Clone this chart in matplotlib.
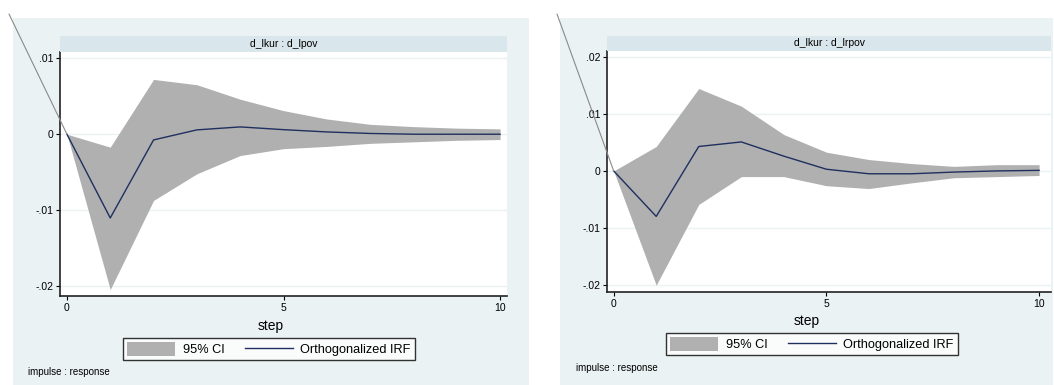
import numpy as np
import matplotlib
matplotlib.use("Agg")
import matplotlib.pyplot as plt
from matplotlib.patches import Rectangle, Patch
from matplotlib.lines import Line2D

plt.rcParams['font.family'] = ['Liberation Sans', 'DejaVu Sans']

# donnees
steps = np.arange(11)

titre_1 = "d_lkur : d_lpov"
irf_1 = [0, -0.0110, -0.00075, 0.00057, 0.00096, 0.0006, 0.0003, 0.0001, 0.0, 0.0, 0.0]
haut_1 = [0, -0.0017, 0.0072, 0.0065, 0.0046, 0.0031, 0.0020, 0.0013, 0.0010, 0.0008, 0.0007]
bas_1 = [0, -0.0204, -0.0087, -0.0052, -0.0028, -0.0019, -0.0016, -0.0012, -0.0010, -0.0008, -0.0007]
yticks_1 = [-0.02, -0.01, 0, 0.01]
ylabels_1 = ["-.02", "-.01", "0", ".01"]

titre_2 = "d_lkur : d_lrpov"
irf_2 = [0, -0.0080, 0.0043, 0.0051, 0.0026, 0.0003, -0.0005, -0.0005, -0.0002, 0.0, 0.0001]
haut_2 = [0, 0.0043, 0.0145, 0.0114, 0.0064, 0.0033, 0.0020, 0.0013, 0.0008, 0.0011, 0.0011]
bas_2 = [0, -0.0201, -0.0059, -0.0010, -0.0010, -0.0026, -0.0031, -0.0021, -0.0012, -0.0010, -0.0008]
yticks_2 = [-0.02, -0.01, 0, 0.01, 0.02]
ylabels_2 = ["-.02", "-.01", "0", ".01", ".02"]

xticks = [0, 5, 10]

fond = "#EAF2F3"
bande = "#D9E6EB"
gris = "#B0B0B0"
bleu = "#1F2F5F"

W, H = 1054, 385
fig = plt.figure(figsize=(W / 100, H / 100), dpi=100)


def fx(px):
    return px / W


def fy(py):
    return 1 - py / H


def panneau(bx0, bx1, ax0, ax1, atop, abot, stop, xlim, ylim, titre, irf, haut, bas,
            yt, yl, step_y, leg_y, leg_x, imp_x, imp_y, diag_start):
    # fond du panneau
    fig.add_artist(Rectangle((fx(bx0), 0), fx(bx1 - bx0), fy(18), transform=fig.transFigure,
                             facecolor=fond, edgecolor="none", zorder=0))
    # bande du titre
    fig.add_artist(Rectangle((fx(ax0), fy(atop)), fx(ax1 - ax0), (atop - stop) / H,
                             transform=fig.transFigure, facecolor=bande, edgecolor="none", zorder=1))
    fig.text(fx((ax0 + ax1) / 2), fy((atop + stop) / 2), titre, ha="center", va="center", fontsize=7.5)

    ax = fig.add_axes([fx(ax0), fy(abot), fx(ax1 - ax0), (abot - atop) / H])
    ax.fill_between(steps, bas, haut, color=gris, linewidth=0, zorder=2)
    ax.plot(steps, irf, color=bleu, linewidth=1, zorder=3)
    ax.set_xlim(*xlim)
    ax.set_ylim(*ylim)
    ax.set_xticks(xticks)
    ax.set_yticks(yt)
    ax.set_yticklabels(yl)
    ax.grid(axis="y", color=fond, linewidth=1)
    ax.set_axisbelow(True)
    for s in ["top", "right"]:
        ax.spines[s].set_visible(False)
    for s in ["left", "bottom"]:
        ax.spines[s].set_color("#222222")
        ax.spines[s].set_linewidth(1.2)
    ax.tick_params(labelsize=7.5, length=3, width=0.8, pad=2)

    fig.text(fx((bx0 + bx1) / 2), fy(step_y), "step", ha="center", va="center", fontsize=10)
    fig.text(fx(imp_x), fy(imp_y), "impulse : response", ha="left", va="center", fontsize=7)

    poignees = [Patch(facecolor=gris, edgecolor="none"), Line2D([0], [0], color=bleu, linewidth=1)]
    leg = fig.legend(poignees, ["95% CI", "Orthogonalized IRF"], loc="center",
                     bbox_to_anchor=(fx(leg_x), fy(leg_y)), ncol=2, fontsize=9.2,
                     frameon=True, fancybox=False, edgecolor="black", handlelength=3.75,
                     handleheight=1.35, columnspacing=1.6, handletextpad=0.6,
                     borderpad=0.3, borderaxespad=0)
    leg.get_frame().set_linewidth(1)

    # trait diagonal
    ax.annotate("", xy=(0, 0), xycoords="data", xytext=(fx(diag_start[0]), fy(diag_start[1])),
                textcoords="figure fraction",
                arrowprops=dict(arrowstyle="-", color="#8A8A8A", linewidth=0.8,
                                shrinkA=0, shrinkB=0),
                annotation_clip=False)
    return ax


panneau(13, 529, 60, 507, 52, 296, 36, (-0.16, 10.16), (-0.02125, 0.0108), titre_1,
        irf_1, haut_1, bas_1, yticks_1, ylabels_1, 326, 349, 269, 28, 372, (9, 14))
panneau(560, 1053, 607, 1051, 51, 292, 36, (-0.157, 10.28), (-0.0213, 0.0211), titre_2,
        irf_2, haut_2, bas_2, yticks_2, ylabels_2, 321, 344, 812, 576, 368, (557, 14))

fig.savefig("out.png", dpi=100)
